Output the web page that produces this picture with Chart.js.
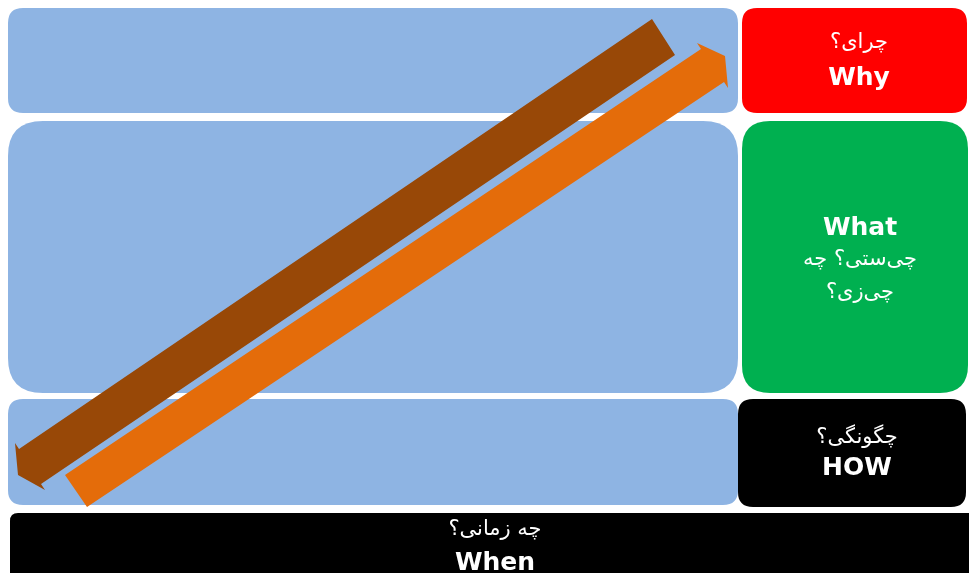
<!DOCTYPE html>
<html><head><meta charset="utf-8">
<script src="https://cdn.jsdelivr.net/npm/chart.js@4/dist/chart.umd.min.js"></script>
<style>html,body{margin:0;padding:0;background:#fff;overflow:hidden}</style>
</head><body>
<canvas id="c" width="969" height="573" style="display:block;width:969px;height:573px"></canvas>
<script>
// ---- data (diagram coordinates, x: 0..969, y: 0..573 top-down) ----
const panelLeft   = [8, 8, 8];
const panelRight  = [738, 738, 738];
const panelTop    = [8, 121, 399];
const panelBottom = [113, 393, 505];

const tagNames  = ['Why', 'What', 'HOW', 'When'];
const tagLeft   = [742, 742, 738, 10];
const tagRight  = [967, 968, 966, 990];
const tagTop    = [8, 121, 399, 513];
const tagBottom = [113, 393, 507, 610];
const tagLines  = [
  ['چرای؟', 'Why'],
  ['What', 'چی‌ستی؟ چه', 'چی‌زی؟'],
  ['چگونگی؟', 'HOW'],
  ['چه زمانی؟', 'When']
];
const tagLineY  = [[43, 78], [228, 260, 293], [438, 468], [530, 563]];
const tagCenterX = [859, 860, 857, 495];

const brownArrowX  = [652, 675, 41, 45, 18, 15, 19, 652];
const brownArrowY  = [19, 55, 484, 490, 475, 443, 449, 19];
const orangeArrowX = [87, 65, 701, 697, 725, 728, 724, 87];
const orangeArrowY = [507, 475, 49, 43, 56, 88, 82, 507];

// ---- styles ----
const panelColor = '#8EB4E3';
const panelRadius = [15, 35, 15];
const tagColors = ['#FF0000', '#00B050', '#000000', '#000000'];
const tagRadius = [15, 28, 15, 8];

function toPts(xs, ys) { return xs.map((x, i) => ({x: x, y: ys[i]})); }

function rr(ctx, x0, y0, x1, y1, r) {
  ctx.beginPath();
  ctx.moveTo(x0 + r, y0);
  ctx.lineTo(x1 - r, y0);
  ctx.quadraticCurveTo(x1, y0, x1, y0 + r);
  ctx.lineTo(x1, y1 - r);
  ctx.quadraticCurveTo(x1, y1, x1 - r, y1);
  ctx.lineTo(x0 + r, y1);
  ctx.quadraticCurveTo(x0, y1, x0, y1 - r);
  ctx.lineTo(x0, y0 + r);
  ctx.quadraticCurveTo(x0, y0, x0 + r, y0);
  ctx.closePath();
}

const boxesPlugin = {
  id: 'boxes',
  beforeDatasetsDraw(chart) {
    const {ctx, scales: {x, y}} = chart;
    ctx.save();
    for (let i = 0; i < panelLeft.length; i++) {
      rr(ctx, x.getPixelForValue(panelLeft[i]), y.getPixelForValue(panelTop[i]),
         x.getPixelForValue(panelRight[i]), y.getPixelForValue(panelBottom[i]), panelRadius[i]);
      ctx.fillStyle = panelColor;
      ctx.fill();
    }
    for (let i = 0; i < tagNames.length; i++) {
      rr(ctx, x.getPixelForValue(tagLeft[i]), y.getPixelForValue(tagTop[i]),
         x.getPixelForValue(tagRight[i]), y.getPixelForValue(tagBottom[i]), tagRadius[i]);
      ctx.fillStyle = tagColors[i];
      ctx.fill();
    }
    ctx.restore();
  },
  afterDatasetsDraw(chart) {
    const {ctx, scales: {x, y}} = chart;
    ctx.save();
    ctx.fillStyle = '#ffffff';
    ctx.textAlign = 'center';
    ctx.textBaseline = 'middle';
    for (let i = 0; i < tagLines.length; i++) {
      tagLines[i].forEach((t, j) => {
        const latin = /^[A-Za-z]+$/.test(t);
        ctx.font = latin ? 'bold 25px "DejaVu Sans"' : '21px "DejaVu Sans"';
        ctx.direction = latin ? 'ltr' : 'rtl';
        ctx.fillText(t, x.getPixelForValue(tagCenterX[i]), y.getPixelForValue(tagLineY[i][j]));
      });
    }
    ctx.restore();
  }
};

new Chart(document.getElementById('c'), {
  type: 'scatter',
  data: {
    datasets: [
      { label: 'brown', data: toPts(brownArrowX, brownArrowY), showLine: true, fill: 'shape',
        backgroundColor: '#984807', borderColor: '#984807', borderWidth: 0, pointRadius: 0, tension: 0 },
      { label: 'orange', data: toPts(orangeArrowX, orangeArrowY), showLine: true, fill: 'shape',
        backgroundColor: '#E46C0A', borderColor: '#E46C0A', borderWidth: 0, pointRadius: 0, tension: 0 }
    ]
  },
  options: {
    responsive: false,
    animation: false,
    layout: { padding: 0 },
    plugins: { legend: { display: false }, tooltip: { enabled: false } },
    events: [],
    scales: {
      x: { type: 'linear', min: 0, max: 969, display: false },
      y: { type: 'linear', min: 0, max: 573, reverse: true, display: false }
    }
  },
  plugins: [boxesPlugin]
});
</script>
</body></html>
